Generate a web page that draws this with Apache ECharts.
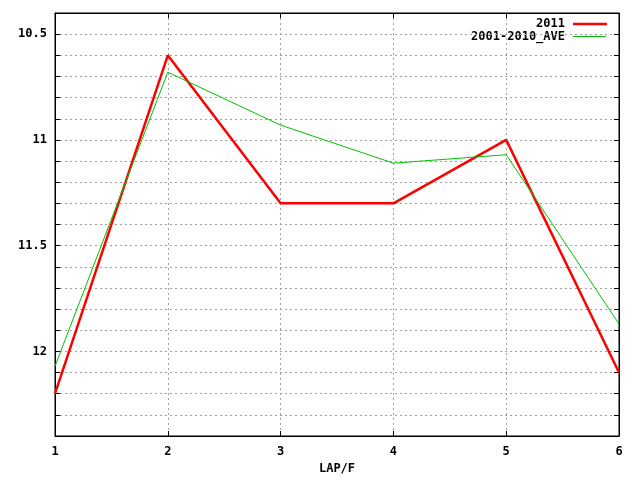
<!DOCTYPE html>
<html><head><meta charset="utf-8">
<script src="https://cdn.jsdelivr.net/npm/echarts@6/dist/echarts.min.js"></script>
<style>html,body{margin:0;padding:0;background:#fff}#c{width:640px;height:480px}</style>
</head><body><div id="c"></div>
<script>
const laps = [1, 2, 3, 4, 5, 6];
const series2011 = [12.2, 10.6, 11.3, 11.3, 11.0, 12.1];
const seriesAve = [12.07, 10.68, 10.93, 11.11, 11.07, 11.87];
const seriesNames = ['2011', '2001-2010_AVE'];
const yLabelValues = [10.5, 11, 11.5, 12];

const font = 'DejaVu Sans Mono';
const grid = {left: 55, right: 21, top: 13, bottom: 40};
const chart = echarts.init(document.getElementById('c'));
const gridLine = {show: true, lineStyle: {color: '#a0a0a0', type: [2, 3], width: 1}};
function yFmt(v) {
  const r = Math.round(v * 10) / 10;
  return yLabelValues.some(t => Math.abs(t - r) < 1e-6) ? String(r) : '';
}
chart.setOption({
  animation: false,
  grid: Object.assign({show: true, borderColor: '#000', borderWidth: 1, backgroundColor: 'transparent'}, grid),
  xAxis: [{
    type: 'value', min: 1, max: 6, interval: 1, position: 'bottom',
    name: 'LAP/F', nameLocation: 'middle', nameGap: 27,
    nameTextStyle: {fontFamily: font, fontWeight: 'bold', fontSize: 12, color: '#000'},
    axisLine: {show: true, onZero: false, lineStyle: {color: '#000'}},
    axisTick: {show: true, inside: true, length: 5, lineStyle: {color: '#000'}},
    axisLabel: {fontFamily: font, fontWeight: 'bold', fontSize: 12, color: '#000', margin: 10},
    splitLine: gridLine
  }, {
    type: 'value', min: 1, max: 6, interval: 1, position: 'top',
    axisLine: {show: true, onZero: false, lineStyle: {color: '#000'}},
    axisTick: {show: true, inside: true, length: 5, lineStyle: {color: '#000'}},
    axisLabel: {show: false}, splitLine: {show: false}
  }],
  yAxis: [{
    type: 'value', inverse: true, min: 10.4, max: 12.4, interval: 0.1, position: 'left',
    axisLine: {show: true, onZero: false, lineStyle: {color: '#000'}},
    axisTick: {show: true, inside: true, length: 5, lineStyle: {color: '#000'}},
    axisLabel: {fontFamily: font, fontWeight: 'bold', fontSize: 12, color: '#000', margin: 8, formatter: yFmt, showMinLabel: true, showMaxLabel: true},
    splitLine: gridLine
  }, {
    type: 'value', inverse: true, min: 10.4, max: 12.4, interval: 0.1, position: 'right',
    axisLine: {show: true, onZero: false, lineStyle: {color: '#000'}},
    axisTick: {show: true, inside: true, length: 5, lineStyle: {color: '#000'}},
    axisLabel: {show: false}, splitLine: {show: false}
  }],
  series: [{
    name: seriesNames[0], type: 'line', symbol: 'none', z: 3,
    data: laps.map((x, i) => [x, series2011[i]]),
    lineStyle: {color: '#ff0000', width: 2.5}
  }, {
    name: seriesNames[1], type: 'line', symbol: 'none', z: 4,
    data: laps.map((x, i) => [x, seriesAve[i]]),
    lineStyle: {color: '#00c000', width: 1}
  }],
  graphic: [
    {type: 'text', right: 640 - 565, top: 18, style: {text: seriesNames[0], font: 'bold 12px "' + font + '"', fill: '#000'}},
    {type: 'text', right: 640 - 565, top: 31, style: {text: seriesNames[1], font: 'bold 12px "' + font + '"', fill: '#000'}},
    {type: 'line', shape: {x1: 573, y1: 24, x2: 607, y2: 24}, style: {stroke: '#ff0000', lineWidth: 2.5}},
    {type: 'line', shape: {x1: 573, y1: 36.5, x2: 606, y2: 36.5}, style: {stroke: '#00c000', lineWidth: 1}}
  ]
});
</script></body></html>
